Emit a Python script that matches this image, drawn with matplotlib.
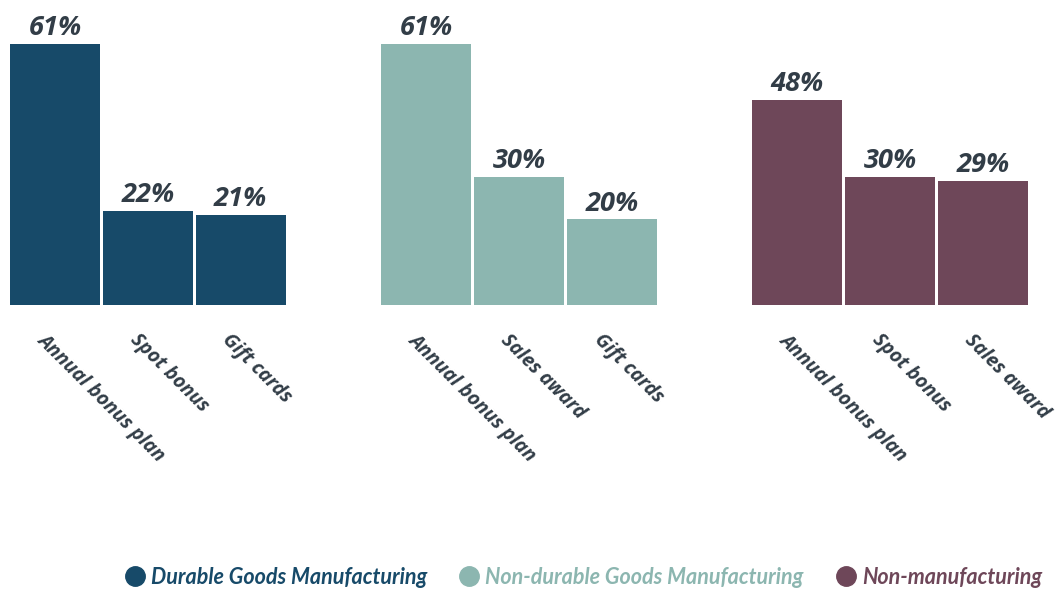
import matplotlib
matplotlib.use("Agg")
import matplotlib.pyplot as plt
import matplotlib.transforms as mtransforms
from matplotlib.lines import Line2D

# ---- data ----
groups = ["Durable Goods Manufacturing", "Non-durable Goods Manufacturing", "Non-manufacturing"]
categories = [
    ["Annual bonus plan", "Spot bonus", "Gift cards"],
    ["Annual bonus plan", "Sales award", "Gift cards"],
    ["Annual bonus plan", "Spot bonus", "Sales award"],
]
values = [
    [61, 22, 21],
    [61, 30, 20],
    [48, 30, 29],
]
colors = ["#174a69", "#8cb6b0", "#6e4759"]
text_color = "#323d47"

plt.rcParams['font.family'] = ['Open Sans', 'DejaVu Sans']

W, H = 1060, 590
fig = plt.figure(figsize=(W / 100, H / 100), dpi=100)
ax = fig.add_axes([8.6 / W, (H - 305) / H, (1029.4 - 8.6) / W, 305 / H])

off = mtransforms.ScaledTranslation(-8 / 100, -25 / 100, fig.dpi_scale_trans)
label_tr = ax.get_xaxis_transform() + off

for g, (cats, vals, col) in enumerate(zip(categories, values, colors)):
    xs = [g * 4 + i for i in range(len(vals))]
    ax.bar(xs, vals, width=0.968, color=col, edgecolor="none")
    for x, v in zip(xs, vals):
        ax.annotate(f"{v}%", (x, v), xytext=(0, 2), textcoords="offset points",
                    ha="center", va="bottom", fontsize=19.5, fontweight="bold",
                    fontstyle="italic", color=text_color)
    for x, c in zip(xs, cats):
        ax.text(x, 0, c, transform=label_tr, rotation=-45, rotation_mode="anchor",
                ha="left", va="top", fontsize=14, fontweight="bold",
                fontstyle="italic", color=text_color)

ax.set_xlim(-0.5, 10.5)
ax.set_ylim(0, 71.3)
ax.axis("off")

handles = [Line2D([], [], marker="o", linestyle="none", markersize=14,
                  markerfacecolor=c, markeredgecolor=c) for c in colors]
leg = fig.legend(handles, groups, loc="center", bbox_to_anchor=(583 / W, 1 - 577 / H),
                 ncol=3, frameon=False, handletextpad=0.25, columnspacing=1.45,
                 handlelength=1.0,
                 prop={"family": ["Lato", "DejaVu Sans"], "size": 15.5,
                       "weight": "bold", "style": "italic"})
for t, c in zip(leg.get_texts(), colors):
    t.set_color(c)

fig.savefig("out.png", dpi=100)
